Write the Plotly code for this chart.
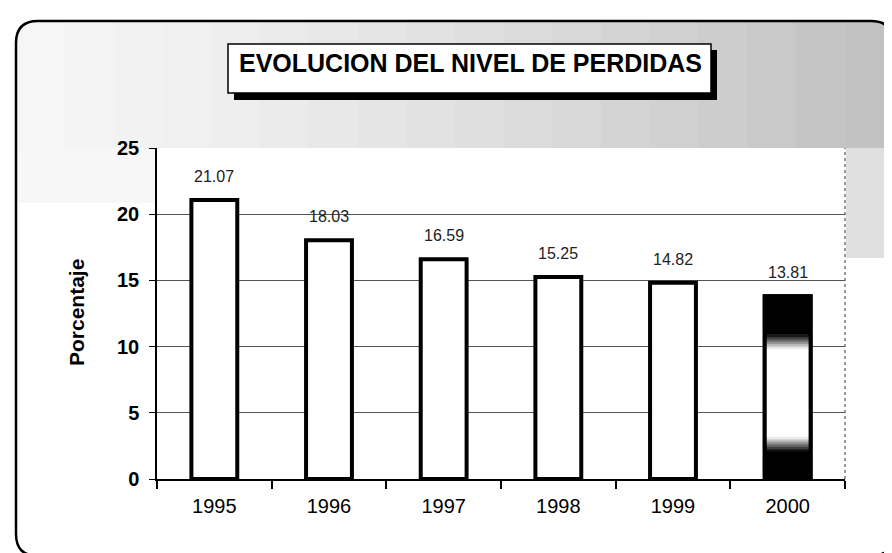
import plotly.graph_objects as go

# data
years = ["1995", "1996", "1997", "1998", "1999", "2000"]
perdidas = [21.07, 18.03, 16.59, 15.25, 14.82, 13.81]
y_ticks = [0, 5, 10, 15, 20, 25]
titulo = "EVOLUCION DEL NIVEL DE PERDIDAS"
eje_y = "Porcentaje"

W, H = 892, 553
L, R, T, B = 149, 55, 140, 82
PW, PH = W - L - R, H - T - B
FONT = "Liberation Sans, Arial, sans-serif"


def fx(x):
    return (x - L) / PW


def fy(y):
    return (H - B - y) / PH


def rect(x0, y0, x1, y1, **kw):
    return dict(type="rect", xref="paper", yref="paper",
                x0=fx(x0), x1=fx(x1), y0=fy(y1), y1=fy(y0), **kw)


def rounded_path(x0, y0, x1, y1, r):
    p = lambda x, y: f"{fx(x):.5f},{fy(y):.5f}"
    return (f"M{p(x0 + r, y0)} L{p(x1 - r, y0)} Q{p(x1, y0)} {p(x1, y0 + r)} "
            f"L{p(x1, y1 - r)} Q{p(x1, y1)} {p(x1 - r, y1)} L{p(x0 + r, y1)} "
            f"Q{p(x0, y1)} {p(x0, y1 - r)} L{p(x0, y0 + r)} Q{p(x0, y0)} {p(x0 + r, y0)} Z")


fig = go.Figure()

# plain bars with heavy outline
fig.add_trace(go.Bar(
    x=years, y=perdidas, width=0.40,
    marker=dict(color="white", line=dict(color="black", width=4)),
    hoverinfo="x+y",
))

# last bar: black-white-black shading
# black base, then overlapping grey bands between the two black ends
fig.add_trace(go.Bar(
    x=[years[-1]], y=[perdidas[-1]], width=0.40,
    marker=dict(color="black", line=dict(width=0)), hoverinfo="skip",
))
stops = [(0.15, 0), (0.23, 255), (0.71, 255), (0.79, 0)]
lo, hi = stops[0][0], stops[-1][0]
n_bands = 48
step_f = (hi - lo) / n_bands
for k in range(n_bands):
    f0 = lo + k * step_f
    fm = f0 + step_f / 2
    for (a, ga), (b, gb) in zip(stops[:-1], stops[1:]):
        if a <= fm <= b:
            g = int(ga + (gb - ga) * (fm - a) / (b - a))
            break
    h = step_f * (2 if k < n_bands - 1 else 1)
    fig.add_trace(go.Bar(
        x=[years[-1]], y=[perdidas[-1] * h], base=[perdidas[-1] * f0],
        width=0.40, marker=dict(color=f"rgb({g},{g},{g})", line=dict(width=0)),
        hoverinfo="skip",
    ))
fig.add_trace(go.Bar(
    x=[years[-1]], y=[perdidas[-1]], width=0.40,
    marker=dict(color="rgba(0,0,0,0)", line=dict(color="black", width=4)),
    hoverinfo="skip",
))

shapes = []
# stippled grey background at the top of the frame
n = 18
x_start, x_end = 8, 885
step = (x_end - x_start) / n
for i in range(n):
    t = i / (n - 1)
    g = int(246 - 52 * t ** 1.3)
    shapes.append(rect(x_start + i * step, 13, x_start + (i + 1) * step + 0.5, T,
                       fillcolor=f"rgb({g},{g},{g})", line_width=0, layer="below"))
shapes.append(rect(8, T, L - 1, 195, fillcolor="rgb(247,247,247)", line_width=0, layer="below"))
shapes.append(rect(W - R + 1, T, 885, 250, fillcolor="rgb(224,224,224)", line_width=0, layer="below"))
# mask the corners outside the rounded frame
r = 22
for (cx, cy, sx, sy) in [(8, 13, 1, 1), (885, 13, -1, 1)]:
    path = (f"M{fx(cx):.5f},{fy(cy):.5f} L{fx(cx + sx * r):.5f},{fy(cy):.5f} "
            f"Q{fx(cx):.5f},{fy(cy):.5f} {fx(cx):.5f},{fy(cy + sy * r):.5f} Z")
    shapes.append(dict(type="path", xref="paper", yref="paper", path=path,
                       fillcolor="white", line_width=0, layer="below"))
# rounded outer frame
shapes.append(dict(type="path", xref="paper", yref="paper",
                   path=rounded_path(8, 13, 885, 548, r),
                   line=dict(color="black", width=2.5)))
# dotted right edge of the plot area
shapes.append(dict(type="line", xref="paper", yref="paper", x0=1, x1=1, y0=0, y1=1,
                   line=dict(color="#555555", width=1.2, dash="dot")))
# title box with drop shadow
shapes.append(rect(226, 42, 709, 92, fillcolor="black", line_width=0))
shapes.append(rect(220, 36, 703, 85, fillcolor="white", line=dict(color="black", width=1.5)))
fig.update_layout(shapes=shapes)

annotations = [
    dict(text=f"<b>{titulo}</b>", xref="paper", yref="paper", x=fx(462), y=fy(55),
         xanchor="center", yanchor="middle", showarrow=False,
         font=dict(family=FONT, size=25, color="black")),
    dict(text=f"<b>{eje_y}</b>", xref="paper", yref="paper", x=fx(68), y=fy(305),
         textangle=-90, xanchor="center", yanchor="middle", showarrow=False,
         font=dict(family=FONT, size=21, color="black")),
]
# value labels above the bars (category axis positions are indices)
for i, v in enumerate(perdidas):
    annotations.append(dict(
        x=i, y=v, text=f"{v:.2f}", showarrow=False, yanchor="bottom", yshift=13,
        font=dict(family=FONT, size=16, color="#222222"),
    ))
fig.update_layout(annotations=annotations)

fig.update_layout(
    width=W, height=H,
    margin=dict(l=L, r=R, t=T, b=B, pad=0),
    paper_bgcolor="white",
    plot_bgcolor="white",
    barmode="overlay",
    showlegend=False,
    font=dict(family=FONT, color="black"),
)
fig.update_xaxes(
    type="category", range=[-0.5, len(years) - 0.5],
    showline=True, linecolor="black", linewidth=1.5,
    ticks="outside", ticklen=8, tickwidth=1.5, tickcolor="black",
    tickson="boundaries", showgrid=False, ticklabelstandoff=8,
    tickfont=dict(family=FONT, size=20, color="black"),
)
fig.update_yaxes(
    range=[0, 25], tickvals=y_ticks, showline=True, linecolor="black", linewidth=1.5,
    ticks="outside", ticklen=6, tickwidth=1.2, tickcolor="black",
    showgrid=True, gridcolor="#555555", gridwidth=1, zeroline=False,
    ticklabelstandoff=6,
    tickfont=dict(family=FONT, size=20, color="black", weight="bold"),
)

fig.write_html("out.html")
